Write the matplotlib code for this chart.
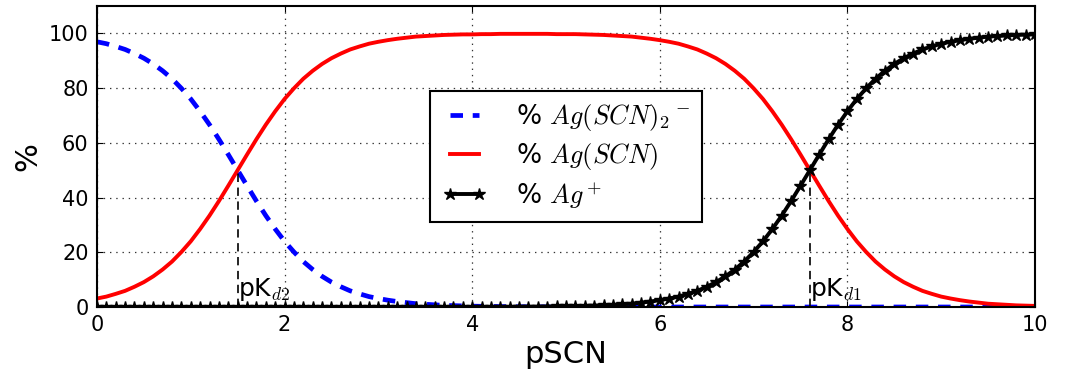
import numpy as np
import matplotlib
matplotlib.use("Agg")
import matplotlib.pyplot as plt

plt.rcParams['mathtext.fontset'] = 'cm'
plt.rcParams['font.family'] = ['DejaVu Sans']
plt.rcParams['lines.scale_dashes'] = False

pscn = np.linspace(0, 10, 101)

ag_scn2 = [96.9, 96.2, 95.2, 94.1, 92.6, 90.9, 88.8, 86.3, 83.4, 79.9,
           76.0, 71.5, 66.6, 61.3, 55.7, 50.0, 44.3, 38.7, 33.4, 28.5,
           24.0, 20.1, 16.6, 13.7, 11.2, 9.1, 7.4, 5.9, 4.8, 3.8,
           3.1, 2.5, 2.0, 1.6, 1.2, 1.0, 0.8, 0.6, 0.5, 0.4,
           0.3, 0.25, 0.2, 0.16, 0.13, 0.1, 0.08, 0.06, 0.05, 0.04,
           0.03, 0.02, 0.02, 0.01, 0.01, 0.01, 0.01, 0.0, 0.0, 0.0,
           0.0, 0.0, 0.0, 0.0, 0.0, 0.0, 0.0, 0.0, 0.0, 0.0,
           0.0, 0.0, 0.0, 0.0, 0.0, 0.0, 0.0, 0.0, 0.0, 0.0,
           0.0, 0.0, 0.0, 0.0, 0.0, 0.0, 0.0, 0.0, 0.0, 0.0,
           0.0, 0.0, 0.0, 0.0, 0.0, 0.0, 0.0, 0.0, 0.0, 0.0, 0.0]

ag_scn = [3.1, 3.8, 4.8, 5.9, 7.4, 9.1, 11.2, 13.7, 16.6, 20.1,
          24.0, 28.5, 33.4, 38.7, 44.3, 50.0, 55.7, 61.3, 66.6, 71.5,
          76.0, 79.9, 83.4, 86.3, 88.8, 90.9, 92.6, 94.1, 95.2, 96.2,
          96.9, 97.5, 98.0, 98.4, 98.8, 99.0, 99.2, 99.4, 99.5, 99.6,
          99.6, 99.7, 99.7, 99.8, 99.8, 99.8, 99.8, 99.8, 99.8, 99.7,
          99.7, 99.7, 99.6, 99.5, 99.4, 99.2, 99.0, 98.8, 98.4, 98.0,
          97.5, 96.9, 96.2, 95.2, 94.1, 92.6, 90.9, 88.8, 86.3, 83.4,
          79.9, 76.0, 71.5, 66.6, 61.3, 55.7, 50.0, 44.3, 38.7, 33.4,
          28.5, 24.0, 20.1, 16.6, 13.7, 11.2, 9.1, 7.4, 5.9, 4.8,
          3.8, 3.1, 2.5, 2.0, 1.6, 1.2, 1.0, 0.8, 0.6, 0.5, 0.4]

ag_plus = [0.0, 0.0, 0.0, 0.0, 0.0, 0.0, 0.0, 0.0, 0.0, 0.0,
           0.0, 0.0, 0.0, 0.0, 0.0, 0.0, 0.0, 0.0, 0.0, 0.0,
           0.0, 0.0, 0.0, 0.0, 0.0, 0.0, 0.0, 0.0, 0.0, 0.0,
           0.0, 0.0, 0.0, 0.0, 0.0, 0.0, 0.0, 0.0, 0.0, 0.0,
           0.03, 0.03, 0.04, 0.05, 0.06, 0.08, 0.1, 0.13, 0.16, 0.2,
           0.25, 0.32, 0.4, 0.5, 0.63, 0.79, 1.0, 1.2, 1.6, 2.0,
           2.5, 3.1, 3.8, 4.8, 5.9, 7.4, 9.1, 11.2, 13.7, 16.6,
           20.1, 24.0, 28.5, 33.4, 38.7, 44.3, 50.0, 55.7, 61.3, 66.6,
           71.5, 76.0, 79.9, 83.4, 86.3, 88.8, 90.9, 92.6, 94.1, 95.2,
           96.2, 96.9, 97.5, 98.0, 98.4, 98.8, 99.0, 99.2, 99.4, 99.5, 99.6]

pk_values = [1.5, 7.6]
pk_labels = [r'pK$_{d2}$', r'pK$_{d1}$']

fig = plt.figure(figsize=(10.69, 3.71), dpi=100)
ax = fig.add_axes([0.0907, 0.1725, 0.8775, 0.8115])

ax.plot(pscn, ag_scn2, color='blue', lw=3.4, dashes=(9, 7),
        label=r'% $Ag(SCN)_2{}^-$')
ax.plot(pscn, ag_scn, color='red', lw=2.8, label=r'% $Ag(SCN)$')
ax.plot(pscn, ag_plus, color='black', lw=2.8, marker='*', ms=9,
        label=r'% $Ag^+$')

for pk, lab in zip(pk_values, pk_labels):
    ax.plot([pk, pk], [0, 50], color='black', lw=1.2, dashes=(6, 4))
    ax.text(pk, 1.5, lab, fontsize=18, ha='left', va='bottom')

ax.set_xlim(0, 10)
ax.set_ylim(0, 110)
ax.set_xticks([0, 2, 4, 6, 8, 10])
ax.set_yticks([0, 20, 40, 60, 80, 100])
ax.grid(True, color='#333333', linestyle=(0, (1, 3.5)), lw=0.9)
ax.tick_params(direction='in', top=True, right=True, labelsize=15, length=4,
               pad=6)
for s in ax.spines.values():
    s.set_linewidth(1.5)
ax.set_xlabel('pSCN', fontsize=22, labelpad=3)
ax.set_ylabel('%', fontsize=22, labelpad=5)

leg = ax.legend(loc='center', fontsize=19, fancybox=False, framealpha=1,
                edgecolor='black', handlelength=1.7, handletextpad=1.1,
                borderpad=0.45, labelspacing=0.3, numpoints=2,
                borderaxespad=0.0)
leg.get_frame().set_linewidth(1.5)

fig.savefig('out.png', dpi=100)
